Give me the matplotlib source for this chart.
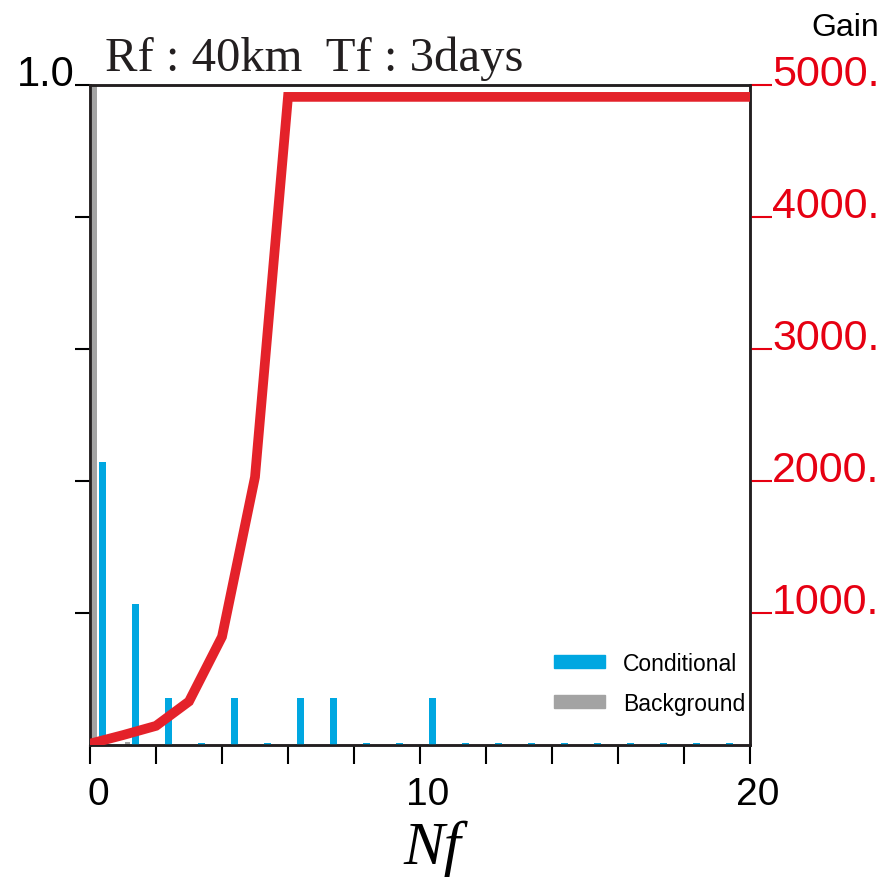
import numpy as np
import matplotlib
matplotlib.use("Agg")
import matplotlib.pyplot as plt
from matplotlib.patches import Patch

plt.rcParams['font.family'] = ['Liberation Sans', 'DejaVu Sans']

# number of events Nf and the gain curve
nf = list(range(0, 21))
gain = [10, 75, 145, 330, 820, 2030, 4910, 4910, 4910, 4910, 4910,
        4910, 4910, 4910, 4910, 4910, 4910, 4910, 4910, 4910, 4910]

# frequency distributions (bins of width 1)
bins = list(range(0, 20))
conditional = [0.4286, 0.2143, 0.0714, 0.003, 0.0714, 0.003, 0.0714, 0.0714, 0.003, 0.003,
               0.0714, 0.003, 0.003, 0.003, 0.003, 0.003, 0.003, 0.003, 0.003, 0.003]
background = [1.0, 0.004, 0, 0, 0, 0, 0, 0, 0, 0,
              0, 0, 0, 0, 0, 0, 0, 0, 0, 0]

xlabels = [0, 10, 20]
gain_ticks = [1000, 2000, 3000, 4000, 5000]

blue = '#00a7e1'
grey = '#a3a3a3'
red = '#e4222a'
red_txt = '#e60012'

fig = plt.figure(figsize=(8.95, 8.79), dpi=100)
ax = fig.add_axes([90/895, 1-746/879, 660/895, 660/879])

ax.bar(np.array(bins) + 0.14, background, width=0.15, color=grey, zorder=2)
ax.bar(np.array(bins) + 0.37, conditional, width=0.21, color=blue, zorder=3)

ax.set_xlim(0, 20)
ax.set_ylim(0, 1.0)
ax.set_xticks(range(0, 21, 2))
ax.set_xticklabels([])
# x tick labels sit a little right of their ticks in the original
for v in xlabels:
    ax.annotate(str(v), xy=(v, 0), xycoords=('data', 'axes fraction'),
                xytext=(8, -59), textcoords='offset pixels',
                ha='center', va='baseline', fontsize=28)
ax.set_yticks([0.2, 0.4, 0.6, 0.8, 1.0])
ax.set_yticklabels(['', '', '', '', '1.0'], fontsize=30)
for lab in ax.get_yticklabels():
    lab.set_va('baseline')
ax.tick_params(axis='x', direction='out', length=14, width=1.5)
ax.tick_params(axis='y', direction='out', length=11, width=1.5, pad=0)
for s in ax.spines.values():
    s.set_linewidth(1.8)
    s.set_color('#231f20')

ax2 = ax.twinx()
ax2.plot(nf, gain, color=red, lw=7, solid_joinstyle='miter', zorder=5)
ax2.set_ylim(0, 5000)
ax2.set_yticks(gain_ticks)
ax2.set_yticklabels([f'{g}.' for g in gain_ticks], fontsize=31)
for lab in ax2.get_yticklabels():
    lab.set_va('baseline')
ax2.tick_params(axis='y', direction='out', length=16, width=1.5, color=red_txt,
                labelcolor=red_txt, pad=0)
for s in ax2.spines.values():
    s.set_linewidth(1.8)
    s.set_color('#231f20')

handles = [Patch(color=blue, label='Conditional'), Patch(color=grey, label='Background')]
ax2.legend(handles=handles, loc='lower right', bbox_to_anchor=(1.014, 0.025), frameon=False,
           fontsize=16.5, handlelength=2.2, handleheight=0.45, labelspacing=0.75,
           handletextpad=0.8, borderaxespad=0.2)

fig.text(432/895, 1-864/879, 'Nf', fontsize=44, family='Liberation Serif',
         style='italic', ha='center', va='baseline')
fig.text(105/895, 1-71/879, 'Rf : 40km  Tf : 3days', fontsize=35,
         family='Liberation Serif', va='baseline', color='#231f20')
fig.text(845/895, 1-36/879, 'Gain', fontsize=23, ha='center', va='baseline')

fig.savefig('out.png', dpi=100)
